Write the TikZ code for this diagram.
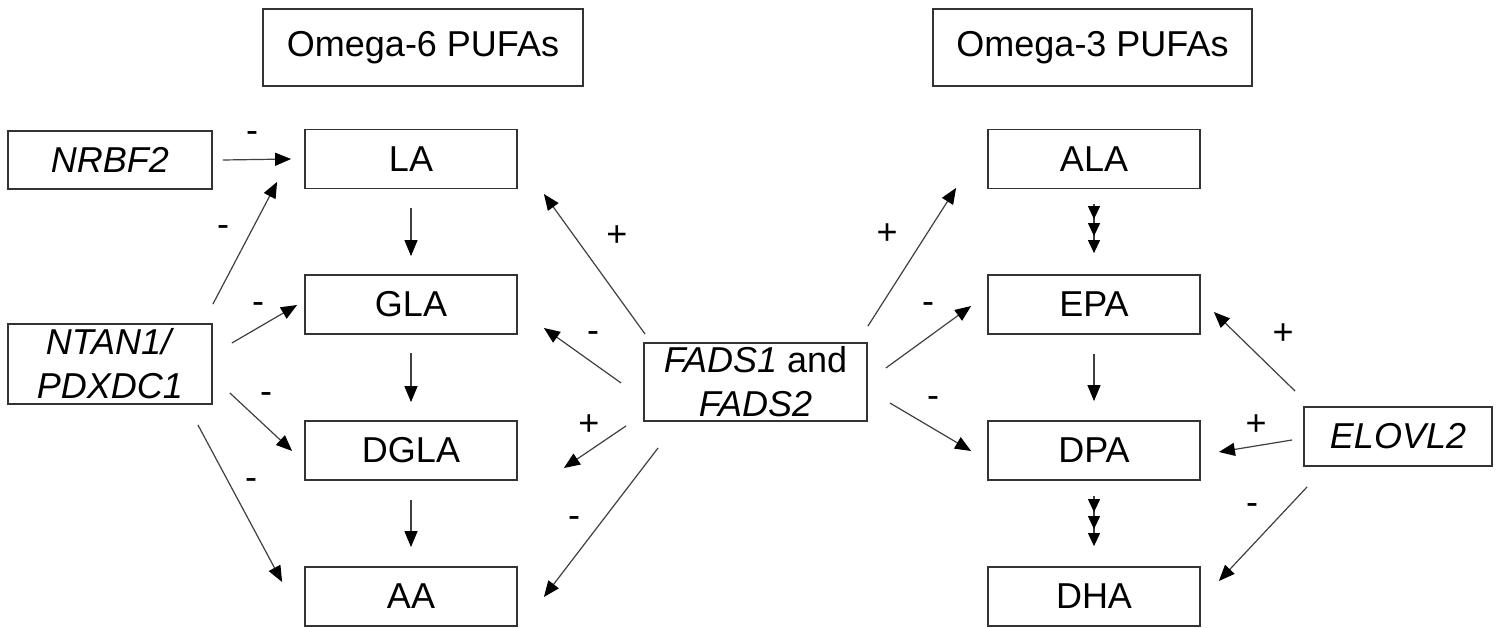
\documentclass[tikz,border=0pt]{standalone}
\usepackage{fontspec}
\setmainfont{Liberation Sans}
\usetikzlibrary{arrows.meta}
\newcommand\diagfont{\fontsize{36}{44}\selectfont}
\begin{document}
\begin{tikzpicture}[x=1pt,y=-1pt,
  box/.style={draw=black!80,line width=1.8pt,minimum width=212pt,minimum height=59pt,inner sep=0pt,align=center,font=\diagfont},
  sign/.style={font=\diagfont,inner sep=0pt},
  arr/.style={draw=black!75,line width=1.2pt,-{Triangle[length=16pt,width=13pt,color=black,fill=black]}},
  smallarr/.style={draw=black!75,line width=1.2pt,-{Triangle[length=13pt,width=12pt,color=black,fill=black]}},
]
\fill[white] (0,0) rectangle (1504,628);
\useasboundingbox (0,0) rectangle (1504,628);

% headers
\node[box,minimum width=320pt,minimum height=77pt] (o6) at (423,47.5) {Omega-6 PUFAs};
\node[box,minimum width=319pt,minimum height=77pt] (o3) at (1092.5,47.5) {Omega-3 PUFAs};

% left genes
\node[box,minimum width=204pt,minimum height=58pt] (nrbf) at (110,160) {\textit{NRBF2}};
\node[box,minimum width=204pt,minimum height=80pt] (ntan) at (110,364) {\textit{NTAN1/}\\\textit{PDXDC1}};

% omega-6 column
\node[box] (la)   at (411,159)   {LA};
\node[box] (gla)  at (411,304.5) {GLA};
\node[box] (dgla) at (411,450.5) {DGLA};
\node[box] (aa)   at (411,596.5) {AA};

% omega-3 column
\node[box] (ala) at (1094,159)   {ALA};
\node[box] (epa) at (1094,304.5) {EPA};
\node[box] (dpa) at (1094,450.5) {DPA};
\node[box] (dha) at (1094,596.5) {DHA};

% center and right genes
\node[box,minimum width=223pt,minimum height=78pt] (fads) at (755.5,382) {\textit{FADS1} and\\\textit{FADS2}};
\node[box,minimum width=188pt,minimum height=59pt] (elovl) at (1398,436.5) {\textit{ELOVL2}};

% pathway arrows (omega-6)
\draw[arr] ([shift={(0,18.5)}]la.south) -- ([shift={(0,-18)}]gla.north);
\draw[arr] ([shift={(0,18.5)}]gla.south) -- ([shift={(0,-18)}]dgla.north);
\draw[arr] ([shift={(0,19)}]dgla.south) -- ([shift={(0,-19)}]aa.north);

% pathway arrows (omega-3)
\draw[smallarr] ([shift={(0,14.5)}]ala.south) -- ([shift={(0,-21)}]epa.north);
\draw[smallarr] ([shift={(0,14.5)}]ala.south) -- ([shift={(0,-38)}]epa.north);
\draw[smallarr] ([shift={(0,14.5)}]ala.south) -- ([shift={(0,-55)}]epa.north);
\draw[arr] ([shift={(0,19)}]epa.south) -- ([shift={(0,-19)}]dpa.north);
\draw[smallarr] ([shift={(0,15)}]dpa.south) -- ([shift={(0,-20)}]dha.north);
\draw[smallarr] ([shift={(0,15)}]dpa.south) -- ([shift={(0,-37)}]dha.north);
\draw[smallarr] ([shift={(0,15)}]dpa.south) -- ([shift={(0,-54)}]dha.north);

% NRBF2 and NTAN1/PDXDC1
\draw[arr] ([shift={(10,0)}]nrbf.east) -- ([shift={(-13,0)}]la.west);
\draw[arr] ([shift={(0,-19)}]ntan.north east) -- ([shift={(-27,-7.5)}]la.south west);
\draw[arr] ([shift={(19,-21)}]ntan.east) -- ([shift={(-7,0.5)}]gla.west);
\draw[arr] ([shift={(17,29)}]ntan.east) -- ([shift={(-12,0.5)}]dgla.west);
\draw[arr] ([shift={(-15,20)}]ntan.south east) -- ([shift={(-22,-14.5)}]aa.west);

% FADS arrows
\draw[arr] ([shift={(2,-8)}]fads.north west) -- ([shift={(26,35)}]la.east);
\draw[arr] ([shift={(-22,1)}]fads.west) -- ([shift={(26,23.5)}]gla.east);
\draw[arr] ([shift={(-17,4)}]fads.south west) -- ([shift={(46,17.5)}]dgla.east);
\draw[arr] ([shift={(15,26)}]fads.south west) -- ([shift={(26,0.5)}]aa.east);
\draw[arr] ([shift={(0,-16)}]fads.north east) -- ([shift={(-31,-1.5)}]ala.south west);
\draw[arr] ([shift={(18,-14)}]fads.east) -- ([shift={(-16,1.5)}]epa.west);
\draw[arr] ([shift={(22,21)}]fads.east) -- ([shift={(-16,0.5)}]dpa.west);

% ELOVL2 arrows
\draw[arr] ([shift={(-8,-15)}]elovl.north west) -- ([shift={(13,7.5)}]epa.east);
\draw[arr] ([shift={(-11,3.5)}]elovl.west) -- ([shift={(18,1.5)}]dpa.east);
\draw[arr] ([shift={(4,20)}]elovl.south west) -- ([shift={(18,-15.5)}]dha.east);

% signs
\node[sign] (s1)  at (252,137) {-};
\node[sign] (s2)  at (223,231) {-};
\node[sign] (s3)  at (258,308) {-};
\node[sign] (s4)  at (266,398) {-};
\node[sign] (s5)  at (251,484) {-};
\node[sign] (s6)  at (617,236) {+};
\node[sign] (s7)  at (593,337) {-};
\node[sign] (s8)  at (589,425) {+};
\node[sign] (s9)  at (574,522) {-};
\node[sign] (s10) at (887,234) {+};
\node[sign] (s11) at (928,308) {-};
\node[sign] (s12) at (933,402) {-};
\node[sign] (s13) at (1283,334) {+};
\node[sign] (s14) at (1256,425) {+};
\node[sign] (s15) at (1252,509) {-};
\end{tikzpicture}
\end{document}
